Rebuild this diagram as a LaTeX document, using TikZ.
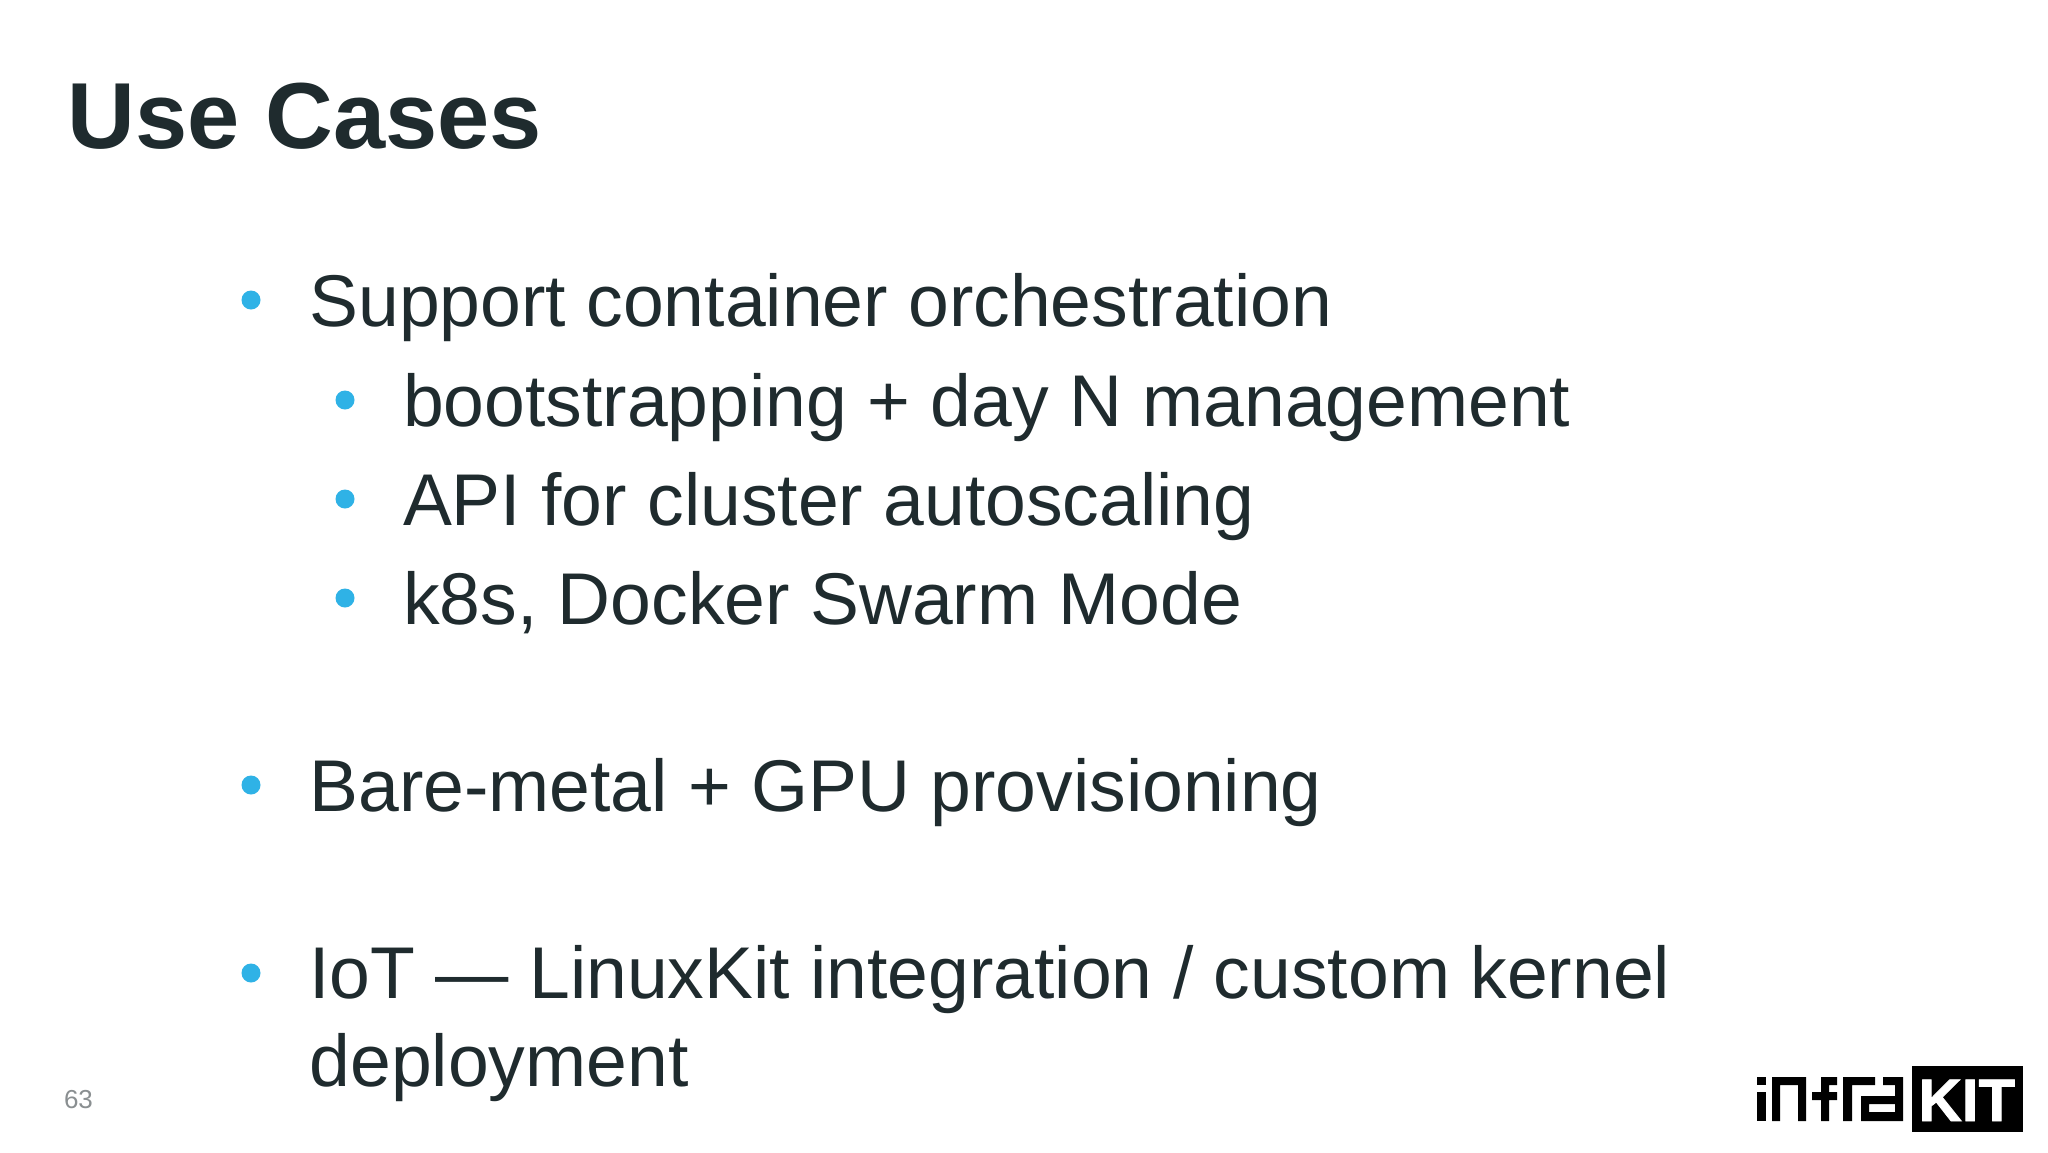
\documentclass[tikz,border=0pt]{standalone}
\usepackage{fontspec}
\setmainfont{Liberation Sans}
\newfontfamily\logofont[FakeBold=1.5]{Liberation Sans Bold}
\definecolor{ink}{HTML}{1F2B2E}
\definecolor{dotblue}{HTML}{2FB2E6}
\definecolor{pagegray}{HTML}{8A8F91}
\tikzset{
  x=0.5pt,y=-0.5pt,
  bodytext/.style={anchor=base west,inner sep=0pt,outer sep=0pt,text=ink,font=\fontsize{36.65}{36.65}\selectfont},
  titletext/.style={anchor=base west,inner sep=0pt,outer sep=0pt,text=ink,font=\fontsize{46.9}{46.9}\selectfont\bfseries},
  pagenum/.style={anchor=base west,inner sep=0pt,outer sep=0pt,text=pagegray,font=\fontsize{13}{13}\selectfont},
  bulletdot/.style={circle,fill=dotblue,draw=none,minimum size=9.5pt,inner sep=0pt},
  logotext/.style={anchor=base west,inner sep=0pt,outer sep=0pt,text=white,font=\logofont\fontsize{30}{30}\selectfont},
  logoink/.style={fill=black,draw=none,even odd rule}
}
\begin{document}
\begin{tikzpicture}
\useasboundingbox (0,0) rectangle (2048,1152);
\fill[white] (0,0) rectangle (2048,1152);
\node[titletext] (title) at (67.5,148) {Use Cases};
\node[bulletdot] (b1) at (251,300) {};
\node[bodytext] (t1) at (309.5,326) {Support container orchestration};
\node[bulletdot] (b2) at (345,400) {};
\node[bodytext] (t2) at (403,426) {bootstrapping + day N management};
\node[bulletdot] (b3) at (345,499) {};
\node[bodytext] (t3) at (403,525) {API for cluster autoscaling};
\node[bulletdot] (b4) at (345,598) {};
\node[bodytext] (t4) at (403,624) {k8s, Docker Swarm Mode};
\node[bulletdot] (b5) at (251,785) {};
\node[bodytext] (t5) at (309.5,811) {Bare-metal + GPU provisioning};
\node[bulletdot] (b6) at (251,973) {};
\node[bodytext] (t6) at (309.5,998) {IoT — LinuxKit integration / custom kernel};
\node[bodytext] (t7) at (309.5,1086) {deployment};
\node[pagenum] (pg) at (64,1108) {63};
% logo: infra
\fill[logoink] (1757,1077) rectangle (1766,1085);
\fill[logoink] (1757,1092) rectangle (1766,1121);
\fill[logoink] (1772,1121) -- (1772,1077) -- (1806,1077) -- (1806,1121) -- (1798,1121) -- (1798,1085) -- (1780,1085) -- (1780,1121) -- cycle;
\fill[logoink] (1821,1121) -- (1821,1100) -- (1812,1100) -- (1812,1092) -- (1821,1092) -- (1821,1077) -- (1837,1077) -- (1837,1085) -- (1829,1085) -- (1829,1092) -- (1837,1092) -- (1837,1100) -- (1829,1100) -- (1829,1121) -- cycle;
\fill[logoink] (1843,1121) -- (1843,1077) -- (1875,1077) -- (1875,1085) -- (1852,1085) -- (1852,1121) -- cycle;
\fill[logoink] (1883,1077) -- (1903,1077) -- (1903,1121) -- (1861,1121) -- (1861,1096) -- (1895,1096) -- (1895,1085) -- (1883,1085) -- cycle
  (1869,1104) rectangle (1895,1112);
% logo: KIT
\fill[black] (1912,1066) rectangle (2023,1132);
\node[logotext] (kit) at (1918.5,1121) {KIT};
\end{tikzpicture}
\end{document}
